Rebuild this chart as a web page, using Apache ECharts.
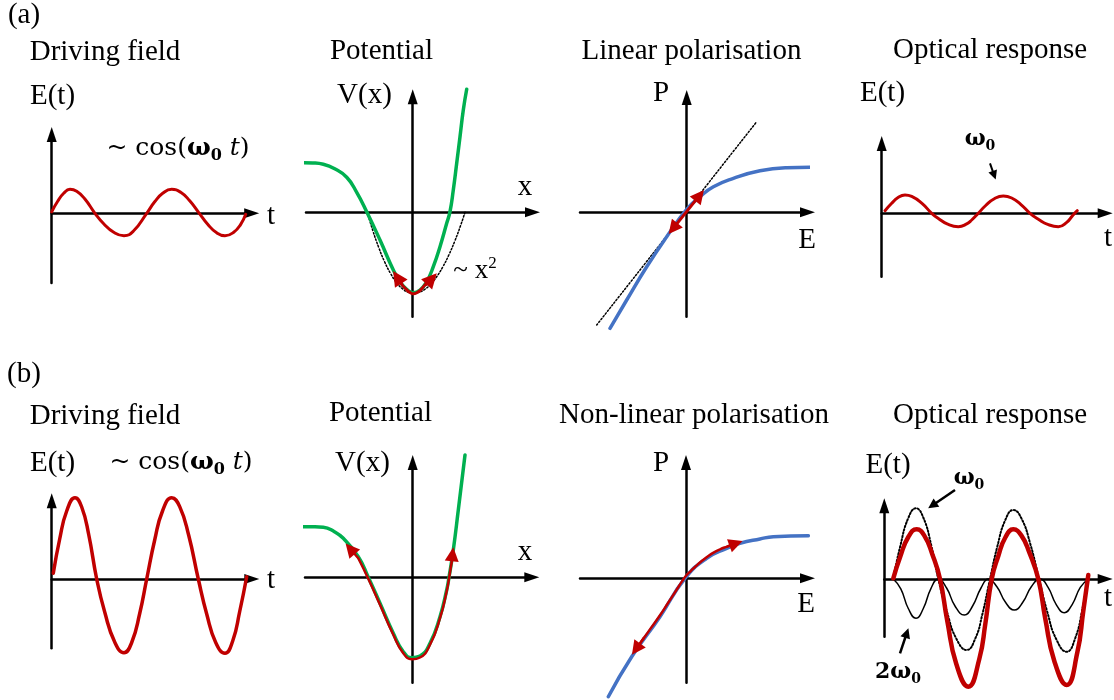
<!DOCTYPE html>
<html><head><meta charset="utf-8">
<script src="https://cdn.jsdelivr.net/npm/echarts@6/dist/echarts.min.js"></script>
<style>html,body{margin:0;padding:0;background:#fff}#c{width:1114px;height:700px}</style>
</head><body><div id="c"></div>
<script>
// ---------- DATA (relative units, origin = axes crossing) ----------
// (a) Driving field
const a1T = [0, 6, 12, 18.3, 25, 33, 43.3, 52, 62, 72.3, 82, 95, 103, 111, 120, 129, 138, 147.6, 156, 165, 173.3, 182, 189, 194];
const a1E = [1.5, 12, 20, 24, 22, 14.5, 0, -10.5, -19, -22.4, -17.5, 0, 11.5, 20, 24, 21, 12.5, 0, -11, -19.5, -22.4, -19, -11, -1];
// (a) Potential
const a2GreenX = [-112, -100, -89.4, -78, -66, -56, -46, -32.7, -19.4, -12.7, -6, 0.6, 7.3, 14, 20.6, 27.3, 34, 37.3, 40.6, 44, 47.3, 50.6, 54];
const a2GreenV = [49.6, 49.3, 48, 43.5, 35, 20, 0.6, -27.7, -57.7, -69.4, -77, -80.4, -77.7, -69.4, -54.4, -34.4, -11, 0.6, 22.3, 49, 75.6, 102.3, 123];
const a2ParX = [-45.4, -40, -34, -28, -22, -16, -10, -5, 0.6, 6, 12, 18, 24, 30, 36, 42, 48, 52.3];
const a2ParV = [0, -17.9, -35.1, -49.7, -61.4, -70.5, -76.7, -79.8, -81, -80.1, -77.1, -71.8, -64.4, -54.8, -43, -29, -12.9, 0];
const a2RedX = [-14.5, -11, -7, -3, 0.6, 4, 8, 12, 15.5];
const a2RedV = [-66.5, -72, -76.5, -80, -81.5, -80.5, -77.5, -73, -69];
const a2ArrowL = [[-11, -72], [-15.5, -65]];
const a2ArrowR = [[13, -73], [19, -66.5]];
// (a) Linear polarisation
const a3BlueE = [-76.7, -60, -40, -20, 0, 13.3, 26.7, 46.7, 73.3, 100, 123.3];
const a3BlueP = [-116, -87.7, -54.4, -24.4, 3, 15.6, 25.6, 34, 41.6, 44.6, 45];
const a3DotE = [-90, 70];
const a3DotP = [-112.7, 90.6];
const a3Arrow = [[-13.7, -16.3], [12.9, 16.9]];
// (a) Optical response
const a4T = [3.3, 10, 16, 23.3, 30, 40, 50, 57, 66, 76.6, 85, 90, 96.6, 104, 113, 121.6, 130, 139, 148.3, 157, 166, 176.6, 185, 191, 195.6];
const a4E = [2.6, 10, 15.5, 18.3, 16.9, 10.2, 0, -5.4, -10.9, -13.4, -10.6, -6.7, 0, 7.8, 14.8, 17.3, 15.3, 9, 0, -6.2, -11.1, -13.4, -9.1, -2.1, 2.6];
const a4Pointer = [[108.3, 50], [112.5, 38]];
// (b) Driving field
const b1T = [1.6, 8, 15, 23.3, 30, 37, 45, 53, 63, 72.3, 80, 88, 95, 103, 111, 120, 128, 137, 146.6, 155, 164, 173.3, 181, 188, 195];
const b1E = [5.7, 40, 68, 81.3, 72, 44.5, 0, -33, -63, -73.7, -63.5, -34.5, 0, 39, 68.5, 81.3, 72.4, 43.7, 0, -35, -63.4, -74.3, -62, -32.5, 2.3];
// (b) Potential
const b2GreenX = [-112.7, -100, -89.4, -79, -69.4, -54.4, -44.4, -32.7, -19.4, -9.4, -1, 7.3, 17.3, 27.3, 34, 36.3, 40.6, 45.6, 52.3];
const b2GreenV = [50.6, 50.5, 50, 46, 39, 20.6, 0, -26, -56, -74.4, -80.4, -78.7, -66, -39.4, -12.7, 0, 27.3, 67.3, 122.3];
const b2RedX = [-54.4, -44.4, -32.7, -19.4, -9.4, -1, 7.3, 17.3, 27.3, 34, 36.3, 38.8];
const b2RedV = [19, -1.5, -27.5, -57.5, -75.9, -81.9, -80.2, -67.5, -40.9, -14, -1.2, 14];
const b2ArrowL = [[-54.4, 19], [-62.5, 28.5]];
const b2ArrowR = [[38.8, 14], [39.8, 23]];
// (b) Non-linear polarisation
const b3BlueE = [-77.7, -54.3, -26, -1, 20.7, 40.7, 54, 74, 87.3, 122.3];
const b3BlueP = [-118.4, -78.4, -38.4, 0, 20, 30, 35, 39.3, 41.6, 42.6];
const b3RedE = [-50, -42, -35, -26, -18, -10, -4, 0, 5, 10, 16, 22, 28, 34, 41, 50];
const b3RedP = [-70.8, -59.5, -49.6, -36.9, -24.7, -12.4, -3.1, 2.5, 7.5, 12.3, 17.5, 22.1, 26, 29, 31.7, 35];
const b3ArrowL = [[-42, -59.5], [-50, -70.8]];
const b3ArrowR = [[41, 31.7], [50, 35]];
// (b) Optical response
const b4RedT = [9, 16, 24, 32.4, 40, 48, 55.7, 63, 72, 84, 95, 101, 107.4, 114, 121, 129, 137, 145, 154, 161, 170, 182.4, 193, 199, 204];
const b4RedE = [0.7, 22.5, 42, 49.7, 43.4, 24.8, 0, -42, -85, -107.7, -80, -45, 0, 23, 41.5, 49.7, 43.6, 26.6, 0, -39.7, -82, -106, -73.6, -32, 4];
const b4W0T = [9, 16, 24, 31.7, 39, 47, 54, 63, 72, 82.4, 91, 98, 105.7, 113, 121, 129, 137, 146, 154.7, 163, 172, 182.4, 191, 198, 204];
const b4W0E = [0.7, 33, 61, 70.7, 61.5, 33.5, 0, -34, -59.6, -71, -59.5, -35.5, 0, 32.4, 59, 69, 60.9, 35, 0, -33, -60.3, -72.7, -59, -30.6, 2.3];
const b42W0T = [9, 16.5, 24, 31.7, 39, 46.5, 54, 62.3, 70.7, 80, 88.3, 96.7, 104, 112.6, 121.2, 130, 138.5, 147, 155.7, 163.8, 171.8, 180, 188, 196, 204];
const b42W0E = [0, -9.8, -29.5, -39.3, -29.5, -9.8, 0, -9, -27, -36, -27, -9, 0, -7.8, -23.3, -31, -23.3, -7.8, 0, -8.4, -25.3, -33.7, -25.3, -8.4, 0];
const b4PointerW0 = [[70.7, 89], [48, 73.5]];
const b4Pointer2W0 = [[15.7, -74.3], [22.5, -54]];

// ---------- LAYOUT ----------
const RED = '#c00000', GREEN = '#00b050', BLUE = '#4472c4';
const SERIF = "'Liberation Serif','Times New Roman',serif";
const MATH = "'DejaVu Serif',serif";
const panels = [
  {ox: 51.7, oy: 213.3, x: [0, 200], y: [-69.7, 78.8]},
  {ox: 412.7, oy: 212.3, x: [-106.7, 119.8], y: [-104.4, 115.5]},
  {ox: 686.7, oy: 212.3, x: [-106.7, 120.8], y: [-104.4, 114.8]},
  {ox: 881.7, oy: 213.3, x: [0, 223.5], y: [-63.4, 69.8]},
  {ox: 51.7, oy: 579, x: [0, 200.1], y: [-69.3, 78.2]},
  {ox: 412.7, oy: 577.3, x: [-107.7, 119.1], y: [-105.4, 114.8]},
  {ox: 686, oy: 578.3, x: [-106, 121.5], y: [-104.4, 115.8]},
  {ox: 884.3, oy: 579, x: [0, 220.9], y: [-57.7, 73.2]}
];
const grid = [], xAxis = [], yAxis = [];
function axisCfg(i, r) {
  return {gridIndex: i, type: 'value', min: r[0], max: r[1],
    axisLine: {show: true, onZero: true, symbol: ['none', 'triangle'], symbolSize: [10, 15],
      lineStyle: {color: '#000', width: 2.5}},
    axisTick: {show: false}, axisLabel: {show: false}, splitLine: {show: false}};
}
panels.forEach((p, i) => {
  grid.push({left: p.ox + p.x[0], top: p.oy - p.y[1], width: p.x[1] - p.x[0], height: p.y[1] - p.y[0], containLabel: false});
  xAxis.push(axisCfg(i, p.x));
  yAxis.push(axisCfg(i, p.y));
});
function zip(a, b) { return a.map((v, k) => [v, b[k]]); }
function line(i, xs, ys, color, width, dash, z) {
  return {type: 'line', xAxisIndex: i, yAxisIndex: i, data: zip(xs, ys), symbol: 'none', showSymbol: false,
    smooth: 0.5, clip: false, silent: true, z: z || 3,
    lineStyle: {color: color, width: width, type: dash || 'solid', cap: 'round', join: 'round'}};
}
function arrow(i, seg, color, width, size, both) {
  return {type: 'lines', coordinateSystem: 'cartesian2d', xAxisIndex: i, yAxisIndex: i, clip: false, silent: true, z: 6,
    symbol: [both ? 'triangle' : 'none', 'triangle'], symbolSize: size,
    lineStyle: {color: color, width: width, opacity: 1, curveness: 0},
    data: [{coords: seg}]};
}
const DOT = [1.5, 2];
const series = [
  line(0, a1T, a1E, RED, 3),
  line(1, a2ParX, a2ParV, '#000', 1.5, DOT, 2),
  line(1, a2GreenX, a2GreenV, GREEN, 3.5),
  line(1, a2RedX, a2RedV, RED, 3, null, 4),
  arrow(1, a2ArrowL, RED, 3, 15), arrow(1, a2ArrowR, RED, 3, 15),
  line(2, a3DotE, a3DotP, '#000', 1.5, DOT, 2),
  line(2, a3BlueE, a3BlueP, BLUE, 3.5),
  arrow(2, a3Arrow, RED, 3, 14, true),
  line(3, a4T, a4E, RED, 3),
  arrow(3, a4Pointer, '#000', 2, 9),
  line(4, b1T, b1E, RED, 3.5),
  line(5, b2GreenX, b2GreenV, GREEN, 3.5),
  line(5, b2RedX, b2RedV, RED, 2.5, null, 4),
  arrow(5, b2ArrowL, RED, 2.5, 14), arrow(5, b2ArrowR, RED, 2.5, 14),
  line(6, b3BlueE, b3BlueP, BLUE, 3.5),
  line(6, b3RedE, b3RedP, RED, 2.5, null, 4),
  arrow(6, b3ArrowL, RED, 2.5, 14), arrow(6, b3ArrowR, RED, 2.5, 14),
  line(7, b4W0T, b4W0E, '#000', 2, DOT, 2),
  line(7, b42W0T, b42W0E, '#000', 1.5, null, 2),
  line(7, b4RedT, b4RedE, RED, 4.5, null, 4),
  arrow(7, b4PointerW0, '#000', 2.5, 10),
  arrow(7, b4Pointer2W0, '#000', 2.5, 10)
];

// ---------- TEXT ----------
function T(x, y, text, size, extra) {
  return {type: 'text', x: x, y: y, silent: true, z: 10,
    style: Object.assign({text: text, fontSize: size || 29, fontFamily: SERIF, fill: '#000', align: 'center', verticalAlign: 'middle'}, extra || {})};
}
const cosRich = {
  n: {fontFamily: MATH, fontSize: 25, lineHeight: 32},
  w: {fontFamily: MATH, fontSize: 25, fontWeight: 'bold', lineHeight: 32},
  s: {fontFamily: MATH, fontSize: 16, fontWeight: 'bold', lineHeight: 14, verticalAlign: 'bottom'},
  i: {fontFamily: MATH, fontSize: 25, fontStyle: 'italic', lineHeight: 32}
};
const omRich = {
  w: {fontFamily: MATH, fontSize: 22, fontWeight: 'bold', lineHeight: 28},
  s: {fontFamily: MATH, fontSize: 14, fontWeight: 'bold', lineHeight: 12, verticalAlign: 'bottom'}
};
const supRich = {
  n: {fontFamily: SERIF, fontSize: 27, lineHeight: 32},
  p: {fontFamily: SERIF, fontSize: 17, lineHeight: 14, verticalAlign: 'top'}
};
const COS = '{n|~ cos(}{w|ω}{s|0}{i| t}{n|)}';
const texts = [
  T(24, 15, '(a)'), T(105, 52, 'Driving field'), T(52.5, 96, 'E(t)'),
  T(178, 148, COS, 25, {rich: cosRich}), T(271, 216, 't'),
  T(381.5, 51, 'Potential'), T(364.5, 95, 'V(x)'), T(525, 187.5, 'x'),
  T(475, 271, '{n|~ x}{p|2}', 27, {rich: supRich}),
  T(691.5, 51, 'Linear polarisation'), T(661, 93.5, 'P'), T(807, 240, 'E'),
  T(990, 50, 'Optical response'), T(882.5, 93, 'E(t)'),
  T(980, 139, '{w|ω}{s|0}', 22, {rich: omRich}), T(1108, 238, 't'),
  T(24, 374, '(b)'), T(105, 416, 'Driving field'), T(52.5, 463.5, 'E(t)'),
  T(181, 462, COS, 25, {rich: cosRich}), T(271, 580, 't'),
  T(380.5, 413.5, 'Potential'), T(362.5, 463.5, 'V(x)'), T(525, 552, 'x'),
  T(694, 415, 'Non-linear polarisation'), T(661, 463.5, 'P'), T(806, 604, 'E'),
  T(990, 415, 'Optical response'), T(888, 465, 'E(t)'),
  T(969, 478, '{w|ω}{s|0}', 22, {rich: omRich}),
  T(898, 672, '{w|2ω}{s|0}', 22, {rich: omRich}), T(1108, 598, 't')
];

const chart = echarts.init(document.getElementById('c'), null, {renderer: 'canvas'});
chart.setOption({
  animation: false, backgroundColor: '#fff',
  grid: grid, xAxis: xAxis, yAxis: yAxis, series: series, graphic: texts
});
</script></body></html>
